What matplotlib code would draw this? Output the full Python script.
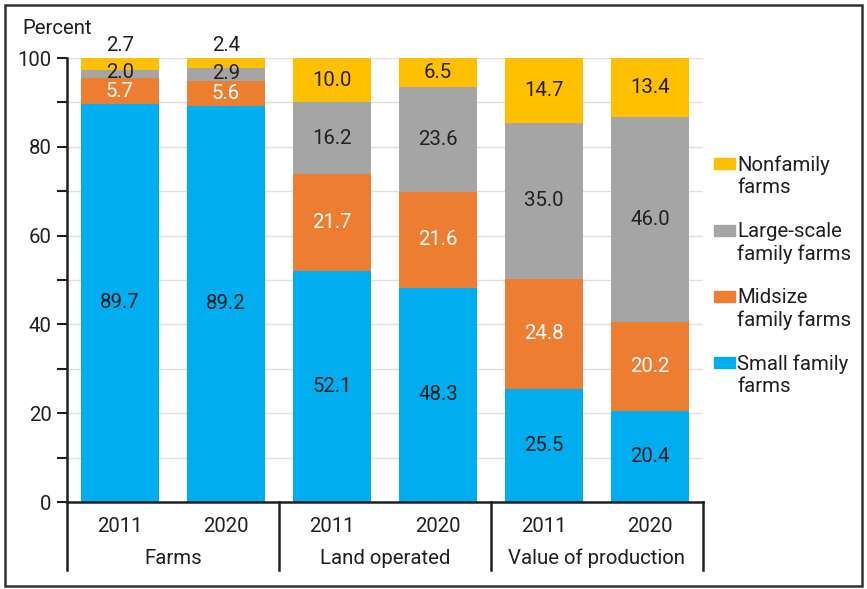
import matplotlib
matplotlib.use("Agg")
import matplotlib.pyplot as plt
from matplotlib.patches import Rectangle
import numpy as np

plt.rcParams['font.family'] = ['Roboto', 'DejaVu Sans']

groups = ["Farms", "Land operated", "Value of production"]
years = ["2011", "2020"]
series_names = ["Small family\nfarms", "Midsize\nfamily farms", "Large-scale\nfamily farms", "Nonfamily\nfarms"]
small = [89.7, 89.2, 52.1, 48.3, 25.5, 20.4]
midsize = [5.7, 5.6, 21.7, 21.6, 24.8, 20.2]
large = [2.0, 2.9, 16.2, 23.6, 35.0, 46.0]
nonfamily = [2.7, 2.4, 10.0, 6.5, 14.7, 13.4]

colors = ["#00AEEF", "#ED7D31", "#A5A5A5", "#FFC000"]
label_colors = ["#231F20", "white", "#231F20", "#231F20"]
txt = "#231F20"

fig = plt.figure(figsize=(8.67, 5.89), dpi=100)
ax = fig.add_axes([67/867, 1-502/589, 636/867, 444/589])

x = np.arange(6)
data = [small, midsize, large, nonfamily]
bottom = np.zeros(6)
fs = 14.7
for k, vals in enumerate(data):
    vals = np.array(vals)
    ax.bar(x, vals, bottom=bottom, width=0.73, color=colors[k], zorder=2)
    for i in range(6):
        v = vals[i]
        yc = bottom[i] + v/2
        col = label_colors[k]
        if i < 2 and k == 3:
            yc = 100 + 2.8
        elif i < 2 and k == 2:
            yc = bottom[i] + v/2 + 0.3
        ax.text(x[i], yc, f"{v:.1f}", ha="center", va="center", fontsize=fs,
                color=col, zorder=3, clip_on=False)
    bottom = bottom + vals

ax.set_xlim(-0.5, 5.5)
ax.set_ylim(0, 100)
ax.set_yticks(np.arange(0, 101, 10))
ax.set_yticklabels([str(v) if v % 20 == 0 else "" for v in range(0, 101, 10)], fontsize=fs, color=txt)
ax.tick_params(axis='y', direction='out', length=7, width=1.5, color=txt, pad=4)
ax.yaxis.grid(True, color="#E0E0E0", linewidth=1.0, zorder=0)
ax.set_axisbelow(True)
ax.set_xticks(x)
ax.set_xticklabels(years * 3, fontsize=fs, color=txt)
ax.tick_params(axis='x', length=0, pad=11)
for s in ["top", "right"]:
    ax.spines[s].set_visible(False)
for s in ["left", "bottom"]:
    ax.spines[s].set_linewidth(1.8)
    ax.spines[s].set_color(txt)

# group separators and labels
sep_len = (570 - 502) / 444
for xs in [-0.5, 1.5, 3.5, 5.5]:
    ax.plot([xs, xs], [0, -sep_len], transform=ax.get_xaxis_transform(), color=txt,
            linewidth=1.8, clip_on=False)
for gi, g in enumerate(groups):
    ax.text(2*gi + 0.5, -(558 - 502) / 444, g, transform=ax.get_xaxis_transform(),
            ha="center", va="center", fontsize=fs, color=txt)

fig.text(22/867, 1-28/589, "Percent", ha="left", va="center", fontsize=fs, color=txt)

# legend
leg_y = [164, 231, 297, 363]
for j, k in enumerate([3, 2, 1, 0]):
    y0 = 1 - leg_y[j]/589
    fig.patches.append(Rectangle((714/867, y0 - 5/589), 21/867, 11/589,
                                 transform=fig.transFigure, color=colors[k]))
    fig.text(737/867, y0 + 9/589, series_names[k], ha="left", va="top", fontsize=fs,
             color=txt, linespacing=1.2)

# outer frame
fig.patches.append(Rectangle((5/867, 3/589), 857/867, 581/589, transform=fig.transFigure,
                             fill=False, edgecolor="#333333", linewidth=1.8))

fig.savefig("out.png", dpi=100)
